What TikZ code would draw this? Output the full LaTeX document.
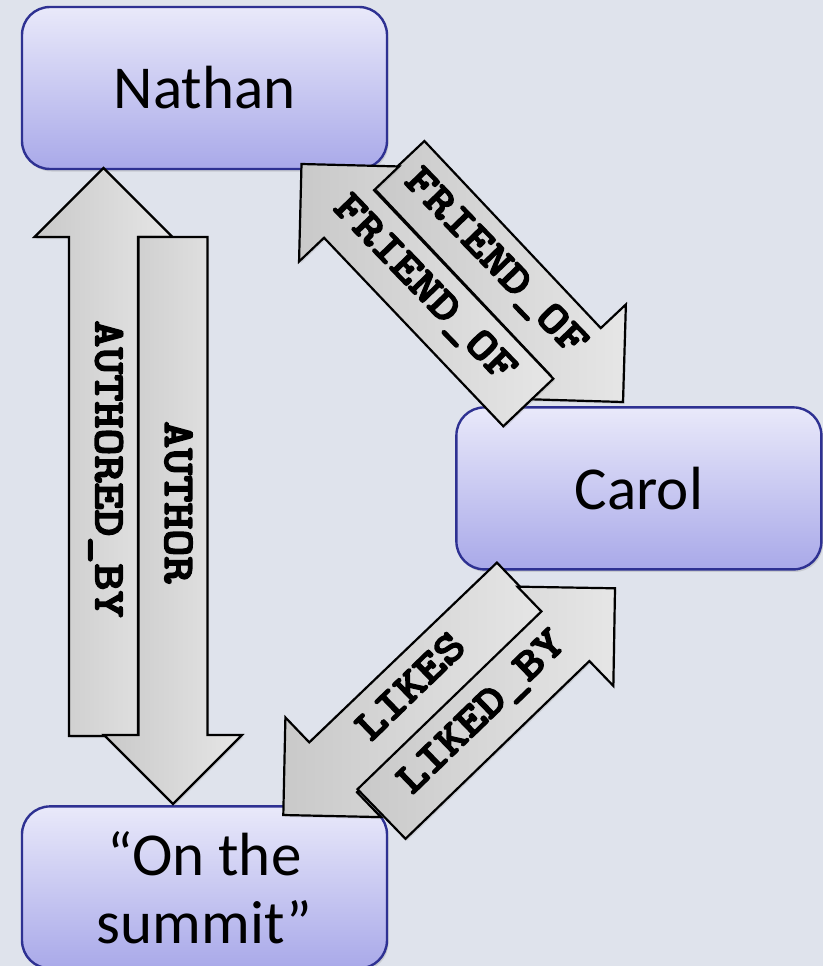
\documentclass[tikz,border=0pt]{standalone}
\usepackage{fontspec}
\newfontfamily\boxfont{Carlito}
\newfontfamily\relfont{lmmonolt10-bold.otf}[FakeBold=3]
\usepackage{tikz}
\usetikzlibrary{positioning,calc,shadows}
\usepackage{xcolor}
\definecolor{bgblue}{HTML}{DFE3EC}
\definecolor{boxtop}{HTML}{E9E9FA}
\definecolor{boxbottom}{HTML}{A9A9E9}
\definecolor{boxline}{HTML}{2E3192}
\definecolor{arrowdark}{HTML}{C9C9C9}
\definecolor{arrowlight}{HTML}{E6E6E6}

\begin{document}
\begin{tikzpicture}[
    x=1pt, y=-1pt,
    entity/.style={
        rectangle, draw=boxline, line width=2.4pt, rounded corners=28pt,
        minimum width=365pt, minimum height=162pt,
        top color=boxtop, bottom color=boxbottom,
        align=center, font=\boxfont\fontsize{61}{68}\selectfont,
        drop shadow={opacity=0.25, shadow xshift=1.5pt, shadow yshift=-2.5pt}
    },
    rel/.style={
        draw=black, line width=2.2pt, line join=miter,
        left color=arrowdark, right color=arrowlight,
        drop shadow={opacity=0.2, shadow xshift=1.5pt, shadow yshift=-2pt},
        to path={
            -- ($(\tikztostart)!34.5pt!90:(\tikztotarget)$)
            -- ($(\tikztotarget)!69pt!(\tikztostart)!34.5pt!-90:(\tikztostart)$)
            -- ($(\tikztotarget)!69pt!(\tikztostart)!69pt!-90:(\tikztostart)$)
            -- (\tikztotarget)
            -- ($(\tikztotarget)!69pt!(\tikztostart)!69pt!90:(\tikztostart)$)
            -- ($(\tikztotarget)!69pt!(\tikztostart)!34.5pt!90:(\tikztostart)$)
            -- ($(\tikztostart)!34.5pt!-90:(\tikztotarget)$)
            -- cycle
        }
    },
    rellabel/.style={
        rotate=#1, xscale=1.17, inner sep=0pt,
        text height=27pt, text depth=11pt,
        font=\relfont\fontsize{44}{44}\selectfont
    }
]
    % Background
    \path[use as bounding box, fill=bgblue] (0,0) rectangle (823,966);

    % Entities
    \node[entity] (nathan) at (204.5,88) {Nathan};
    \node[entity, below=635pt of nathan] (summit) {“On the\\summit”};
    \node[entity, below right=236pt and 67pt of nathan] (carol) {Carol};

    % Arrow ends
    \coordinate (ab-tail) at (103.5,736);
    \coordinate (ab-tip) at (103.5,168);
    \coordinate (au-tail) at (173,237);
    \coordinate (au-tip) at (173,804);
    \coordinate (fo1-tail) at (399.3,164.7);
    \coordinate (fo1-tip) at (623,402);
    \coordinate (fo2-tail) at (528.3,402.5);
    \coordinate (fo2-tip) at (301.5,164);
    \coordinate (lk-tail) at (520.8,587.5);
    \coordinate (lk-tip) at (283.3,815);
    \coordinate (lb-tail) at (381.5,814);
    \coordinate (lb-tip) at (615,588.3);

    % Relationship arrows
    \draw[rel] (ab-tail) to (ab-tip);
    \draw[rel] (au-tail) to (au-tip);
    \draw[rel] (fo1-tail) to (fo1-tip);
    \draw[rel] (fo2-tail) to (fo2-tip);
    \draw[rel] (lk-tail) to (lk-tip);
    \draw[rel] (lb-tail) to (lb-tip);

    % Labels
    \node[rellabel=-90] (ab-label) at ($(ab-tail)!.47!(ab-tip)$) {AUTHORED\_BY};
    \node[rellabel=-90] (au-label) at ($(au-tail)!.468!(au-tip)$) {AUTHOR};
    \node[rellabel=-46] (fo1-label) at ($(fo1-tail)!.42!(fo1-tip)$) {FRIEND\_OF};
    \node[rellabel=-46] (fo2-label) at ($(fo2-tail)!.468!(fo2-tip)$) {FRIEND\_OF};
    \node[rellabel=44] (lk-label) at ($(lk-tail)!.45!(lk-tip)$) {LIKES};
    \node[rellabel=44] (lb-label) at ($(lb-tail)!.44!(lb-tip)$) {LIKED\_BY};

\end{tikzpicture}
\end{document}
